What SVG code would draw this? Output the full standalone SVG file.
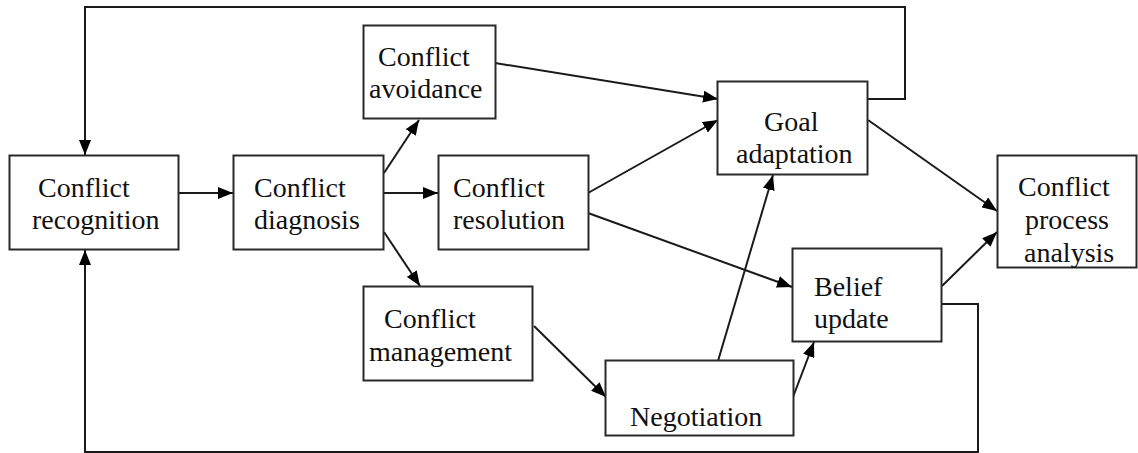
<svg xmlns="http://www.w3.org/2000/svg" width="1138" height="453" viewBox="0 0 1138 453">
<style>
.box{fill:#fff;stroke:#2a2a2a;stroke-width:2}
.t{font-family:"Liberation Serif","Times New Roman",serif;font-size:28px;fill:#111}
.c{fill:none;stroke:#1a1a1a;stroke-width:2}
</style>
<defs>
<marker id="ah" viewBox="0 0 15 12" refX="15" refY="6" markerWidth="15" markerHeight="12" markerUnits="userSpaceOnUse" orient="auto">
<path d="M0,0 L15,6 L0,12 z" fill="#000"/>
</marker>
</defs>
<rect width="1138" height="453" fill="#fff"/>
<g id="connectors">
<polyline class="c" points="868,99 905,99 905,7 85,7 85,155" marker-end="url(#ah)"/>
<polyline class="c" points="942,304 978,304 978,452 85,452 85,250" marker-end="url(#ah)"/>
<line class="c" x1="178" y1="193" x2="233" y2="193" marker-end="url(#ah)"/>
<line class="c" x1="384" y1="173" x2="419" y2="120" marker-end="url(#ah)"/>
<line class="c" x1="384" y1="193" x2="438" y2="193" marker-end="url(#ah)"/>
<line class="c" x1="384" y1="232" x2="420" y2="286" marker-end="url(#ah)"/>
<line class="c" x1="495" y1="63" x2="718" y2="99" marker-end="url(#ah)"/>
<line class="c" x1="588" y1="193" x2="718" y2="120" marker-end="url(#ah)"/>
<line class="c" x1="588" y1="213" x2="792" y2="287" marker-end="url(#ah)"/>
<line class="c" x1="534" y1="326" x2="606" y2="397" marker-end="url(#ah)"/>
<line class="c" x1="718" y1="361" x2="773" y2="175" marker-end="url(#ah)"/>
<line class="c" x1="793" y1="397" x2="814" y2="342" marker-end="url(#ah)"/>
<line class="c" x1="868" y1="120" x2="997" y2="211" marker-end="url(#ah)"/>
<line class="c" x1="942" y1="286" x2="997" y2="232" marker-end="url(#ah)"/>
</g>
<g id="recognition">
<rect class="box" x="9.5" y="155.5" width="169" height="94"/>
<text class="t" x="38" y="197">Conflict</text>
<text class="t" x="32" y="229">recognition</text>
</g>
<g id="diagnosis">
<rect class="box" x="233.5" y="155.5" width="150" height="94"/>
<text class="t" x="254" y="197">Conflict</text>
<text class="t" x="254" y="229">diagnosis</text>
</g>
<g id="avoidance">
<rect class="box" x="363.5" y="25.5" width="132" height="93"/>
<text class="t" x="378" y="66">Conflict</text>
<text class="t" x="369" y="98">avoidance</text>
</g>
<g id="resolution">
<rect class="box" x="438.5" y="155.5" width="150" height="94"/>
<text class="t" x="453" y="197">Conflict</text>
<text class="t" x="453" y="229">resolution</text>
</g>
<g id="management">
<rect class="box" x="363.5" y="286.5" width="169" height="94"/>
<text class="t" x="384" y="328">Conflict</text>
<text class="t" x="369" y="361">management</text>
</g>
<g id="goal">
<rect class="box" x="717.5" y="81.5" width="150" height="93"/>
<text class="t" x="764" y="131">Goal</text>
<text class="t" x="736" y="163">adaptation</text>
</g>
<g id="process-analysis">
<rect class="box" x="997.5" y="155.5" width="139" height="112"/>
<text class="t" x="1018" y="196">Conflict</text>
<text class="t" x="1025" y="229">process</text>
<text class="t" x="1024" y="262">analysis</text>
</g>
<g id="belief">
<rect class="box" x="792.5" y="248.5" width="149" height="93"/>
<text class="t" x="814" y="296">Belief</text>
<text class="t" x="814" y="328">update</text>
</g>
<g id="negotiation">
<rect class="box" x="605.5" y="360.5" width="188" height="75"/>
<text class="t" x="630" y="426">Negotiation</text>
</g>
</svg>
